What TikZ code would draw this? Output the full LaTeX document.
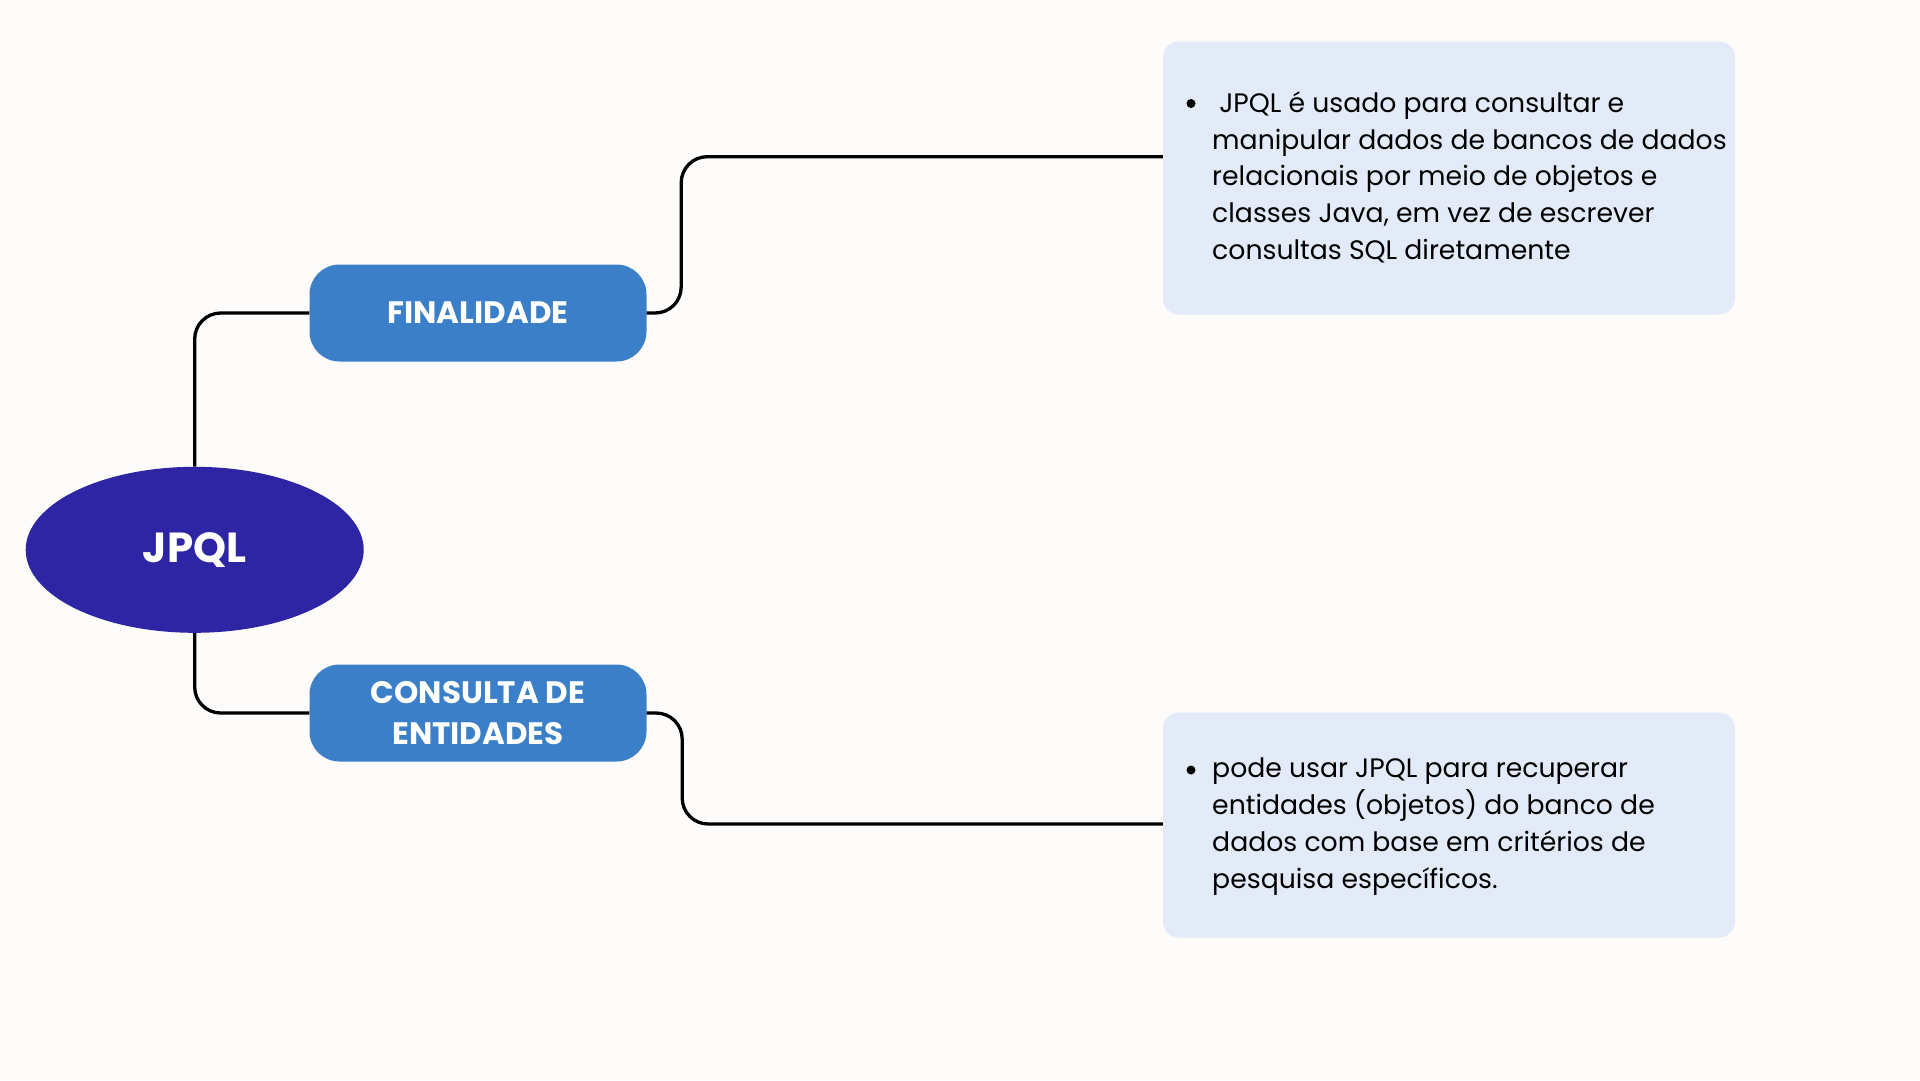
\documentclass[tikz,border=0pt]{standalone}
\usepackage{fontspec}
\setmainfont{Poppins}
\usetikzlibrary{shapes.geometric}
\definecolor{bgcol}{HTML}{FDFCFA}
\definecolor{ellcol}{HTML}{2D25A3}
\definecolor{boxcol}{HTML}{3A7FC7}
\definecolor{notecol}{HTML}{E3EBF8}
\tikzset{
  conn/.style={draw=black, line width=3.3pt, rounded corners=26pt},
  topic/.style={fill=boxcol, rounded corners=30pt, minimum width=337pt, minimum height=97pt, inner sep=0pt, text=white, align=center, font=\fontsize{31}{40.5}\selectfont\bfseries},
  note/.style={fill=notecol, rounded corners=16pt, minimum width=572pt, inner sep=0pt},
  notetext/.style={anchor=north west, inner sep=0pt, align=left, font=\fontsize{26.7}{36.7}\selectfont},
  bulletmark/.style={circle, fill=black, minimum size=9pt, inner sep=0pt}
}
\begin{document}
\begin{tikzpicture}[x=1pt,y=-1pt]
\fill[bgcol] (0,0) rectangle (1920,1080);
\useasboundingbox (0,0) rectangle (1920,1080);

\node[ellipse, fill=ellcol, minimum width=338pt, minimum height=166pt, inner sep=0pt, text=white, font=\fontsize{42}{50}\selectfont\bfseries] (jpql) at (194.7,549.8) {JPQL};

\node[topic] (fin) at (478,313) {FINALIDADE};
\node[topic] (cons) at (478,713) {CONSULTA DE\\ENTIDADES};

\node[note, minimum height=273pt] (tbox) at (1449,178) {};
\node[note, minimum height=225pt] (bbox) at (1449,825) {};

\node[bulletmark] (tb) at (1191,103.5) {};
\node[notetext] (tt) at (1212,91.5) {\ JPQL é usado para consultar e\\manipular dados de bancos de dados\\relacionais por meio de objetos e\\classes Java, em vez de escrever\\consultas SQL diretamente};

\node[bulletmark] (bb) at (1191,770) {};
\node[notetext] (bt) at (1212,758) {pode usar JPQL para recuperar\\entidades (objetos) do banco de\\dados com base em critérios de\\pesquisa específicos.};

\draw[conn] (jpql.north) |- (fin.west);
\draw[conn] (jpql.south) |- (cons.west);
\draw[conn] (fin.east) -- ++(34.5,0) |- ([yshift=21.3pt]tbox.west);
\draw[conn] (cons.east) -- ++(35.5,0) |- ([yshift=1pt]bbox.west);
\end{tikzpicture}
\end{document}
